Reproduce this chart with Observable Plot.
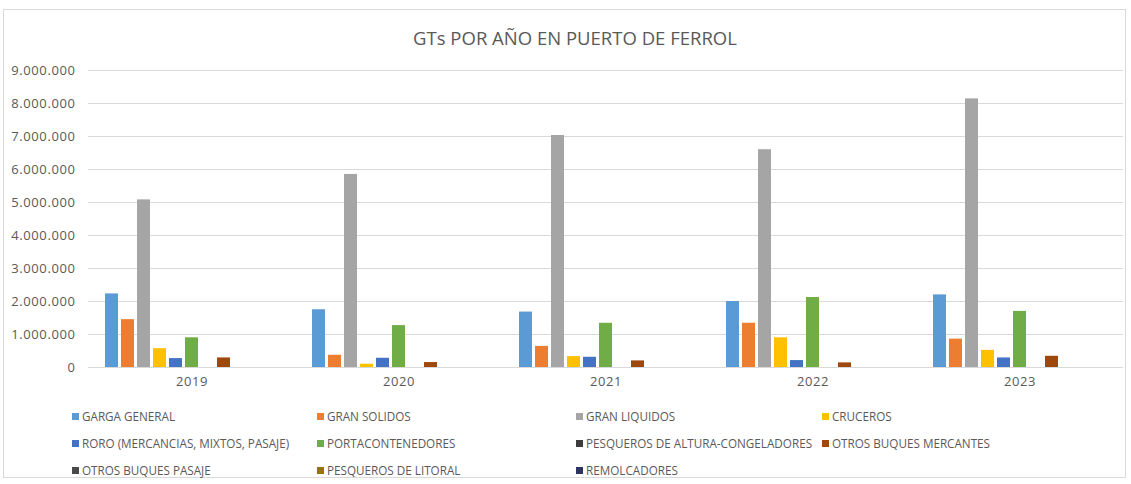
<!DOCTYPE html>
<html>
<head>
<meta charset="utf-8">
<script src="https://cdn.jsdelivr.net/npm/d3@7"></script>
<script src="https://cdn.jsdelivr.net/npm/@observablehq/plot@0.6"></script>
<style>
  html, body { margin: 0; padding: 0; background: #fff; }
  #wrap { position: relative; width: 1131px; height: 484px; overflow: hidden; font-family: "Open Sans", "Liberation Sans", sans-serif; }
  #frame { position: absolute; left: 3px; top: 9px; width: 1123px; height: 469px; border: 1px solid #d9d9d9; box-sizing: border-box; }
  #title { position: absolute; left: 0; width: 1150px; top: 25px; text-align: center; font-size: 18.5px; color: #595959; }
  #chart { position: absolute; left: 0; top: 55px; }
  #legend { position: absolute; left: 72px; top: 407px; width: 1050px; display: grid; grid-template-columns: 245px 259px 246px 250px; row-gap: 9px; font-size: 11.7px; color: #595959; }
  .item { display: flex; align-items: center; white-space: nowrap; height: 18px; }
  .sw { width: 7px; height: 7px; margin-right: 3px; flex: none; }
</style>
</head>
<body>
<div id="wrap">
  <div id="frame"></div>
  <div id="title"></div>
  <div id="chart"></div>
  <div id="legend"></div>
</div>
<script>
const titleText = "GTs POR AÑO EN PUERTO DE FERROL";
const years = ["2019", "2020", "2021", "2022", "2023"];
const seriesNames = [
  "GARGA GENERAL",
  "GRAN SOLIDOS",
  "GRAN LIQUIDOS",
  "CRUCEROS",
  "RORO (MERCANCIAS, MIXTOS, PASAJE)",
  "PORTACONTENEDORES",
  "PESQUEROS DE ALTURA-CONGELADORES",
  "OTROS BUQUES MERCANTES",
  "OTROS BUQUES PASAJE",
  "PESQUEROS DE LITORAL",
  "REMOLCADORES"
];
const seriesColors = ["#5B9BD5", "#ED7D31", "#A5A5A5", "#FFC000", "#4472C4", "#70AD47", "#3c3c3c", "#9E480E", "#4a4a4a", "#997300", "#2c3560"];

const cargaGeneral        = [2230000, 1750000, 1680000, 2000000, 2200000];
const granSolidos         = [1450000,  370000,  640000, 1340000,  860000];
const granLiquidos        = [5080000, 5850000, 7030000, 6600000, 8140000];
const cruceros            = [ 570000,  100000,  330000,  900000,  520000];
const roro                = [ 270000,  280000,  310000,  210000,  290000];
const portacontenedores   = [ 900000, 1270000, 1340000, 2120000, 1700000];
const pesquerosAltura     = [      0,       0,       0,       0,       0];
const otrosMercantes      = [ 290000,  150000,  200000,  140000,  340000];
const otrosPasaje         = [      0,       0,       0,       0,       0];
const pesquerosLitoral    = [      0,       0,       0,       0,       0];
const remolcadores        = [      0,       0,       0,       0,       0];

const yTicks = [0, 1000000, 2000000, 3000000, 4000000, 5000000, 6000000, 7000000, 8000000, 9000000];

const seriesValues = [cargaGeneral, granSolidos, granLiquidos, cruceros, roro, portacontenedores,
  pesquerosAltura, otrosMercantes, otrosPasaje, pesquerosLitoral, remolcadores];

const data = [];
years.forEach((yr, i) => {
  seriesNames.forEach((s, j) => {
    data.push({year: yr, series: s, value: seriesValues[j][i]});
  });
});

const fmt = d => d3.format(",")(d).replace(/,/g, ".");

document.getElementById("title").textContent = titleText;

const chart = Plot.plot({
  width: 1131,
  height: 342,
  marginLeft: 88,
  marginRight: 8,
  marginTop: 15,
  marginBottom: 30,
  style: {fontFamily: "'Open Sans', sans-serif", fontSize: "13px", letterSpacing: "0.6px", color: "#595959", background: "transparent"},
  fx: {domain: years, padding: 0, label: null, tickSize: 0, tickPadding: 9, axis: "bottom"},
  x: {domain: seriesNames, paddingInner: 0.21, paddingOuter: 0.88, axis: null},
  y: {domain: [0, 9000000], ticks: yTicks, tickFormat: fmt, tickSize: 0, tickPadding: 13, label: null, grid: false},
  color: {domain: seriesNames, range: seriesColors},
  marks: [
    Plot.gridY(yTicks, {stroke: "#d9d9d9", strokeOpacity: 1}),
    Plot.axisY({ticks: yTicks, tickFormat: fmt, tickSize: 0, tickPadding: 13, label: null, fill: "#595959"}),
    Plot.barY(data, {fx: "year", x: "series", y: "value", fill: "series"})
  ]
});
document.getElementById("chart").appendChild(chart);

const legend = document.getElementById("legend");
seriesNames.forEach((s, j) => {
  const it = document.createElement("div");
  it.className = "item";
  const sw = document.createElement("span");
  sw.className = "sw";
  sw.style.background = seriesColors[j];
  const tx = document.createElement("span");
  tx.textContent = s;
  it.appendChild(sw);
  it.appendChild(tx);
  legend.appendChild(it);
});
</script>
</body>
</html>
